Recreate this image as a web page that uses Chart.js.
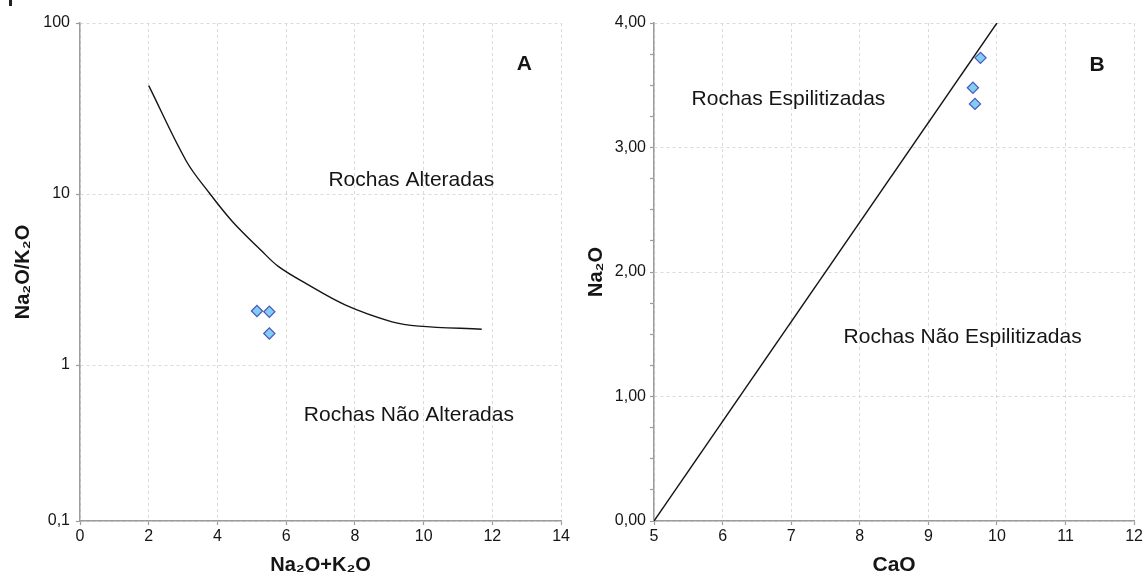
<!DOCTYPE html>
<html>
<head>
<meta charset="utf-8">
<script src="https://cdn.jsdelivr.net/npm/chart.js@4.4.1/dist/chart.umd.min.js"></script>
<style>
  html, body { margin: 0; padding: 0; background: #fff; }
  #wrap { position: relative; width: 1145px; height: 581px; overflow: hidden; }
  #panelA { position: absolute; left: 0; top: 0; width: 572px; height: 581px; }
  #panelB { position: absolute; left: 572px; top: 0; width: 573px; height: 581px; }
  #mark { position: absolute; left: 9px; top: 0; width: 3px; height: 6px; background: #222; }
</style>
</head>
<body>
<div id="wrap">
  <div id="mark"></div>
  <div id="panelA"><canvas id="chartA"></canvas></div>
  <div id="panelB"><canvas id="chartB"></canvas></div>
</div>
<script>
// Panel A: alteration boundary (Na2O+K2O vs Na2O/K2O)
const boundarySum   = [2.0, 3.1, 3.77, 4.44, 5.29, 5.78, 6.57, 7.73, 9.08, 9.86, 11.69];
const boundaryRatio = [43.0, 15.5, 10.1, 6.89, 4.64, 3.76, 3.00, 2.24, 1.79, 1.69, 1.62];
const sampleSum     = [5.15, 5.51, 5.51];
const sampleRatio   = [2.07, 2.05, 1.53];
const ratioTicks    = [0.1, 1, 10, 100];
const ratioAxisFloor = 0.1225;   // lower edge of the log axis, labelled with the first tick

// Panel B: spilitisation boundary (CaO vs Na2O)
const lineCaO    = [5, 10];
const lineNa2O   = [0, 4];
const sampleCaO  = [9.76, 9.65, 9.68];
const sampleNa2O = [3.72, 3.48, 3.35];

const FONT = "'Liberation Sans', Arial, sans-serif";
const AXIS_GREY = '#9c9c9c';
const GRID_GREY = '#dadada';
const INK = '#151515';
const decimalComma = v => String(v).replace('.', ',');

const pts = (xs, ys) => xs.map((x, i) => ({ x, y: ys[i] }));

const regionLabels = {
  id: 'regionLabels',
  afterDatasetsDraw(chart, args, opts) {
    const { ctx } = chart;
    const xs = chart.scales.x, ys = chart.scales.y;
    ctx.save();
    ctx.fillStyle = INK;
    ctx.textAlign = 'center';
    ctx.textBaseline = 'middle';
    for (const item of opts.items) {
      ctx.font = item.font;
      ctx.fillText(item.text, xs.getPixelForValue(item.x), ys.getPixelForValue(item.y));
    }
    ctx.restore();
  }
};

const sampleStyle = {
  pointStyle: 'rectRot',
  pointRadius: 5.6,
  pointHoverRadius: 5.6,
  backgroundColor: '#80cdf6',
  borderColor: '#4c57b8',
  borderWidth: 1.2,
  showLine: false
};

const lineStyle = {
  borderColor: INK,
  borderWidth: 1.4,
  pointRadius: 0,
  showLine: true,
  fill: false
};

const tickFont = { family: FONT, size: 16 };
const titleFont = { family: FONT, size: 20, weight: 'bold' };

new Chart(document.getElementById('chartA'), {
  type: 'scatter',
  data: {
    datasets: [
      { ...sampleStyle, data: pts(sampleSum, sampleRatio) },
      { ...lineStyle, tension: 0.35, data: pts(boundarySum, boundaryRatio) }
    ]
  },
  options: {
    responsive: true,
    maintainAspectRatio: false,
    animation: false,
    layout: { padding: { top: 23, right: 9, left: 0, bottom: 0 } },
    plugins: {
      legend: { display: false },
      tooltip: { enabled: false },
      regionLabels: {
        items: [
          { text: 'A', x: 12.93, y: 57.5, font: `bold 21px ${FONT}` },
          { text: 'Rochas Alteradas', x: 9.64, y: 12.1, font: `21px ${FONT}` },
          { text: 'Rochas Não Alteradas', x: 9.57, y: 0.51, font: `21px ${FONT}` }
        ]
      }
    },
    scales: {
      x: {
        type: 'linear',
        min: 0, max: 14,
        afterFit: s => { s.height = 60; },
        ticks: { stepSize: 2, color: INK, font: tickFont, padding: 2, maxRotation: 0 },
        grid: { color: GRID_GREY, lineWidth: 1, tickLength: 4, tickColor: AXIS_GREY, tickWidth: 1.2 },
        border: { color: AXIS_GREY, width: 1.5, dash: [3, 3] },
        title: { display: true, text: 'Na₂O+K₂O', color: INK, font: titleFont, padding: { top: 0, bottom: 4 } }
      },
      y: {
        type: 'logarithmic',
        min: ratioAxisFloor, max: 100,
        afterFit: s => { s.width = 80; },
        afterBuildTicks: s => { s.ticks = ratioTicks.map(v => ({ value: Math.max(v, ratioAxisFloor) })); },
        ticks: { color: INK, font: tickFont, padding: 6, autoSkip: false, callback: (v, i) => decimalComma(ratioTicks[i]) },
        grid: { color: GRID_GREY, lineWidth: 1, tickLength: 4, tickColor: AXIS_GREY, tickWidth: 1.2 },
        border: { color: AXIS_GREY, width: 1.5, dash: [3, 3] },
        title: { display: true, text: 'Na₂O/K₂O', color: INK, font: titleFont, padding: { top: 11, bottom: 0 } }
      }
    }
  },
  plugins: [regionLabels]
});

new Chart(document.getElementById('chartB'), {
  type: 'scatter',
  data: {
    datasets: [
      { ...sampleStyle, data: pts(sampleCaO, sampleNa2O) },
      { ...lineStyle, data: pts(lineCaO, lineNa2O) }
    ]
  },
  options: {
    responsive: true,
    maintainAspectRatio: false,
    animation: false,
    layout: { padding: { top: 23, right: 10, left: 0, bottom: 0 } },
    plugins: {
      legend: { display: false },
      tooltip: { enabled: false },
      regionLabels: {
        items: [
          { text: 'B', x: 11.46, y: 3.66, font: `bold 21px ${FONT}` },
          { text: 'Rochas Espilitizadas', x: 6.96, y: 3.39, font: `21px ${FONT}` },
          { text: 'Rochas Não Espilitizadas', x: 9.50, y: 1.48, font: `21px ${FONT}` }
        ]
      }
    },
    scales: {
      x: {
        type: 'linear',
        min: 5, max: 12,
        afterFit: s => { s.height = 60; },
        ticks: { stepSize: 1, color: INK, font: tickFont, padding: 2, maxRotation: 0 },
        grid: { color: GRID_GREY, lineWidth: 1, tickLength: 4, tickColor: AXIS_GREY, tickWidth: 1.2 },
        border: { color: AXIS_GREY, width: 1.5, dash: [3, 3] },
        title: { display: true, text: 'CaO', color: INK, font: { ...titleFont, size: 21 }, padding: { top: 0, bottom: 3.4 } }
      },
      y: {
        type: 'linear',
        min: 0, max: 4,
        afterFit: s => { s.width = 82; },
        ticks: {
          stepSize: 0.25, color: INK, font: tickFont, padding: 4, autoSkip: false,
          callback: v => Number.isInteger(v) ? v.toFixed(2).replace('.', ',') : ''
        },
        grid: {
          color: c => (c.tick && Number.isInteger(c.tick.value)) ? GRID_GREY : 'rgba(0,0,0,0)',
          lineWidth: 1, tickLength: 4, tickColor: AXIS_GREY, tickWidth: 1.2
        },
        border: { color: AXIS_GREY, width: 1.5, dash: [3, 3] },
        title: { display: true, text: 'Na₂O', color: INK, font: titleFont, padding: { top: 12, bottom: 0 } }
      }
    }
  },
  plugins: [regionLabels]
});
</script>
</body>
</html>
